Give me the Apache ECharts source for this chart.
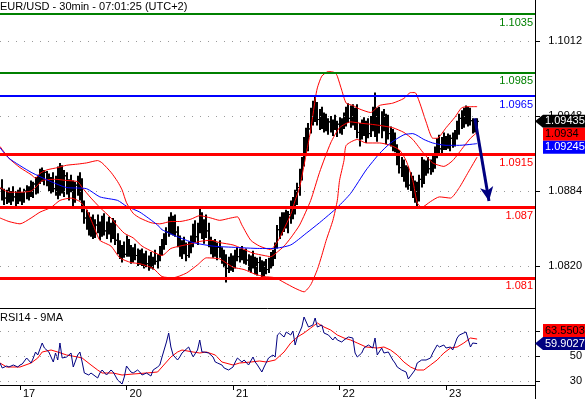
<!DOCTYPE html>
<html><head><meta charset="utf-8">
<script src="https://cdn.jsdelivr.net/npm/echarts@6/dist/echarts.min.js"></script>
<style>html,body{margin:0;padding:0;background:#fff}#c{width:585px;height:399px}</style>
</head><body><div id="c"></div>
<script>
const titleText = 'EUR/USD - 30min - 07:01:25 (UTC+2)';
const rsiTitle = 'RSI14 - 9MA';
const dayLabels = ['17', '20', '21', '22', '23'];
const dayStartBars = [0, 48, 96, 144, 192];
const firstBar = -8;
// [open, high, low, close] per 30-min bar
const ohlc = [
[1.0886,1.0894,1.0876,1.0880],[1.0880,1.0886,1.0872,1.0878],[1.0878,1.0885,1.0873,1.0882],[1.0882,1.0887,1.0874,1.0877],
[1.0877,1.0884,1.0872,1.0880],[1.0880,1.0888,1.0875,1.0879],[1.0879,1.0884,1.0871,1.0876],[1.0876,1.0885,1.0873,1.0881],
[1.0881,1.0887,1.0875,1.0879],[1.0879,1.0883,1.0872,1.0877],[1.0877,1.0886,1.0874,1.0884],[1.0884,1.0889,1.0877,1.0880],
[1.0880,1.0888,1.0876,1.0886],[1.0886,1.0893,1.0879,1.0883],
[1.0883,1.0892,1.0878,1.0890],[1.0890,1.0896,1.0881,1.0884],[1.0884,1.0898,1.0882,1.0895],[1.0895,1.0903,1.0890,1.0899],
[1.0899,1.0904,1.0892,1.0896],[1.0896,1.0902,1.0889,1.0900],
[1.0900,1.0901,1.0888,1.0892],[1.0892,1.0899,1.0884,1.0887],[1.0887,1.0896,1.0882,1.0894],[1.0894,1.0900,1.0883,1.0886],
[1.0886,1.0897,1.0880,1.0893],
[1.0893,1.0905,1.0877,1.0884],[1.0884,1.0908,1.0880,1.0900],[1.0900,1.0906,1.0882,1.0888],[1.0888,1.0902,1.0879,1.0897],
[1.0897,1.0900,1.0881,1.0886],[1.0886,1.0894,1.0876,1.0890],[1.0890,1.0898,1.0883,1.0887],[1.0887,1.0893,1.0871,1.0878],
[1.0878,1.0892,1.0874,1.0889],[1.0889,1.0897,1.0880,1.0884],
[1.0884,1.0900,1.0876,1.0893],[1.0893,1.0895,1.0866,1.0870],[1.0870,1.0876,1.0856,1.0861],
[1.0861,1.0868,1.0851,1.0857],[1.0857,1.0866,1.0846,1.0849],[1.0849,1.0862,1.0845,1.0858],[1.0858,1.0864,1.0843,1.0850],
[1.0850,1.0860,1.0844,1.0855],[1.0855,1.0864,1.0848,1.0852],[1.0852,1.0858,1.0842,1.0846],[1.0846,1.0863,1.0845,1.0859],
[1.0859,1.0865,1.0846,1.0850],[1.0850,1.0858,1.0843,1.0856],[1.0856,1.0862,1.0847,1.0851],[1.0851,1.0857,1.0840,1.0845],
[1.0845,1.0861,1.0843,1.0855],[1.0855,1.0859,1.0838,1.0842],
[1.0842,1.0848,1.0830,1.0835],[1.0835,1.0842,1.0826,1.0829],[1.0829,1.0838,1.0823,1.0834],[1.0834,1.0841,1.0827,1.0830],
[1.0830,1.0846,1.0828,1.0840],
[1.0840,1.0843,1.0828,1.0832],[1.0832,1.0838,1.0822,1.0827],[1.0827,1.0836,1.0823,1.0833],[1.0833,1.0839,1.0825,1.0829],
[1.0829,1.0835,1.0820,1.0826],
[1.0826,1.0834,1.0821,1.0830],[1.0830,1.0835,1.0820,1.0823],[1.0823,1.0831,1.0818,1.0828],[1.0828,1.0833,1.0819,1.0822],
[1.0822,1.0829,1.0816,1.0825],[1.0825,1.0832,1.0818,1.0820],[1.0820,1.0828,1.0817,1.0826],[1.0826,1.0834,1.0821,1.0824],
[1.0824,1.0830,1.0818,1.0828],[1.0828,1.0837,1.0824,1.0834],
[1.0834,1.0843,1.0829,1.0840],[1.0840,1.0848,1.0834,1.0845],[1.0845,1.0853,1.0838,1.0849],
[1.0849,1.0862,1.0845,1.0858],[1.0858,1.0866,1.0847,1.0852],[1.0852,1.0863,1.0846,1.0860],[1.0860,1.0864,1.0845,1.0849],
[1.0849,1.0854,1.0836,1.0840],[1.0840,1.0846,1.0828,1.0833],[1.0833,1.0842,1.0826,1.0838],[1.0838,1.0845,1.0830,1.0834],
[1.0834,1.0840,1.0824,1.0829],[1.0829,1.0841,1.0827,1.0837],[1.0837,1.0846,1.0831,1.0842],
[1.0842,1.0856,1.0836,1.0851],[1.0851,1.0859,1.0840,1.0845],[1.0845,1.0857,1.0838,1.0854],[1.0854,1.0870,1.0848,1.0862],
[1.0862,1.0866,1.0843,1.0848],[1.0848,1.0860,1.0839,1.0856],[1.0856,1.0864,1.0844,1.0850],[1.0850,1.0857,1.0836,1.0840],
[1.0840,1.0845,1.0830,1.0834],[1.0834,1.0842,1.0827,1.0838],[1.0838,1.0843,1.0828,1.0831],[1.0831,1.0840,1.0825,1.0836],
[1.0836,1.0842,1.0827,1.0830],[1.0830,1.0836,1.0822,1.0827],[1.0827,1.0834,1.0819,1.0824],[1.0824,1.0830,1.0806,1.0818],
[1.0818,1.0828,1.0814,1.0824],[1.0824,1.0831,1.0816,1.0820],[1.0820,1.0829,1.0815,1.0826],[1.0826,1.0834,1.0818,1.0830],
[1.0830,1.0836,1.0824,1.0828],[1.0828,1.0835,1.0823,1.0832],[1.0832,1.0837,1.0825,1.0827],[1.0827,1.0834,1.0822,1.0830],
[1.0830,1.0835,1.0821,1.0825],
[1.0825,1.0830,1.0816,1.0821],[1.0821,1.0829,1.0814,1.0826],[1.0826,1.0833,1.0818,1.0822],[1.0822,1.0828,1.0813,1.0817],
[1.0817,1.0827,1.0812,1.0823],
[1.0823,1.0828,1.0815,1.0819],[1.0819,1.0825,1.0809,1.0815],[1.0815,1.0824,1.0811,1.0820],[1.0820,1.0826,1.0813,1.0817],
[1.0817,1.0827,1.0814,1.0824],
[1.0824,1.0832,1.0818,1.0828],[1.0828,1.0834,1.0820,1.0831],[1.0831,1.0840,1.0826,1.0837],
[1.0837,1.0855,1.0835,1.0851],[1.0851,1.0862,1.0843,1.0856],[1.0856,1.0866,1.0846,1.0852],
[1.0852,1.0866,1.0849,1.0862],[1.0862,1.0868,1.0852,1.0856],[1.0856,1.0867,1.0848,1.0864],
[1.0864,1.0876,1.0856,1.0871],[1.0871,1.0879,1.0860,1.0866],
[1.0866,1.0885,1.0864,1.0881],[1.0881,1.0891,1.0872,1.0887],
[1.0887,1.0903,1.0880,1.0898],[1.0898,1.0913,1.0893,1.0908],
[1.0908,1.0930,1.0905,1.0925],[1.0925,1.0938,1.0916,1.0920],[1.0920,1.0942,1.0918,1.0937],
[1.0937,1.0955,1.0933,1.0950],[1.0950,1.0961,1.0940,1.0946],[1.0946,1.0966,1.0943,1.0958],
[1.0958,1.0960,1.0940,1.0945],[1.0945,1.0954,1.0936,1.0950],[1.0950,1.0956,1.0937,1.0941],[1.0941,1.0951,1.0934,1.0947],
[1.0947,1.0950,1.0935,1.0939],[1.0939,1.0946,1.0932,1.0943],[1.0943,1.0948,1.0934,1.0937],[1.0937,1.0945,1.0931,1.0942],
[1.0942,1.0949,1.0936,1.0938],[1.0938,1.0944,1.0930,1.0941],[1.0941,1.0947,1.0933,1.0936],[1.0936,1.0946,1.0932,1.0944],
[1.0944,1.0951,1.0937,1.0948],
[1.0948,1.0956,1.0939,1.0951],[1.0951,1.0959,1.0942,1.0946],[1.0946,1.0957,1.0938,1.0953],[1.0953,1.0958,1.0940,1.0944],
[1.0944,1.0955,1.0936,1.0949],
[1.0949,1.0958,1.0929,1.0934],[1.0934,1.0942,1.0922,1.0938],
[1.0938,1.0945,1.0928,1.0941],[1.0941,1.0947,1.0931,1.0936],[1.0936,1.0944,1.0925,1.0940],[1.0940,1.0946,1.0929,1.0933],
[1.0933,1.0948,1.0930,1.0944],
[1.0944,1.0956,1.0935,1.0951],[1.0951,1.0968,1.0930,1.0939],[1.0939,1.0955,1.0926,1.0948],
[1.0948,1.0956,1.0933,1.0940],[1.0940,1.0952,1.0929,1.0947],[1.0947,1.0954,1.0935,1.0938],[1.0938,1.0950,1.0924,1.0944],
[1.0944,1.0949,1.0928,1.0933],
[1.0933,1.0939,1.0922,1.0929],[1.0929,1.0937,1.0918,1.0925],[1.0925,1.0934,1.0917,1.0921],
[1.0921,1.0924,1.0906,1.0910],[1.0910,1.0919,1.0899,1.0904],[1.0904,1.0913,1.0896,1.0908],
[1.0908,1.0911,1.0892,1.0896],[1.0896,1.0906,1.0887,1.0901],[1.0901,1.0905,1.0885,1.0889],[1.0889,1.0900,1.0884,1.0894],
[1.0894,1.0897,1.0878,1.0882],[1.0882,1.0893,1.0874,1.0888],[1.0888,1.0892,1.0869,1.0877],
[1.0877,1.0898,1.0875,1.0894],[1.0894,1.0913,1.0887,1.0906],[1.0906,1.0911,1.0890,1.0899],
[1.0899,1.0910,1.0897,1.0906],[1.0906,1.0913,1.0899,1.0903],[1.0903,1.0911,1.0898,1.0909],[1.0909,1.0914,1.0900,1.0905],
[1.0905,1.0922,1.0903,1.0918],[1.0918,1.0929,1.0912,1.0925],[1.0925,1.0932,1.0916,1.0920],[1.0920,1.0930,1.0914,1.0927],
[1.0927,1.0934,1.0919,1.0923],
[1.0923,1.0931,1.0919,1.0928],[1.0928,1.0933,1.0920,1.0924],[1.0924,1.0932,1.0918,1.0929],[1.0929,1.0934,1.0921,1.0925],
[1.0925,1.0936,1.0922,1.0933],
[1.0933,1.0944,1.0928,1.0940],[1.0940,1.0950,1.0932,1.0946],[1.0946,1.0953,1.0937,1.0942],[1.0942,1.0955,1.0938,1.0951],
[1.0951,1.0957,1.0941,1.0948],[1.0948,1.0956,1.0939,1.0952],[1.0952,1.0955,1.0940,1.0944],
[1.0944,1.0946,1.0933,1.0937],[1.0937,1.0945,1.0934,1.0941],[1.0941,1.0946,1.09365,1.09435]
];
// [bar, value] readings of the indicator lines
const bbUpper = [[-9,1.0922],[-5,1.0912],[0,1.0904],[5,1.0898],[7,1.0895],[9,1.0899],[12,1.0902],[17,1.0904],[21,1.0906],[26,1.0907],[30,1.0908],[35,1.0910],[37,1.0908],[41,1.0900],[44,1.0892],[46,1.0885],[48,1.0874],[51,1.0865],[54,1.0861],[59,1.0857],[63,1.0856],[68,1.0858],[72,1.0858],[77,1.0860],[81,1.0863],[86,1.0861],[90,1.0859],[95,1.0861],[98,1.0862],[100,1.0855],[104,1.0842],[108,1.0837],[113,1.0834],[115,1.0838],[117,1.0844],[122,1.0864],[124,1.0876],[126,1.0887],[128,1.0906],[131,1.0936],[133,1.0962],[134,1.0972],[136,1.0982],[139,1.0986],[142,1.0985],[143,1.0982],[145,1.0970],[147,1.0959],[150,1.0957],[153,1.0954],[158,1.0951],[162,1.0957],[168,1.0959],[173,1.0963],[176,1.0968],[178,1.0968],[180,1.0960],[183,1.0943],[186,1.0929],[188,1.0929],[192,1.0938],[196,1.0947],[199,1.0955],[202,1.0956],[206,1.0956]];
const bbMiddle = [[-9,1.0887],[-5,1.0883],[0,1.0883],[5,1.0884],[8,1.0889],[10,1.0893],[16,1.0894],[21,1.0893],[26,1.0892],[28,1.0887],[32,1.0878],[36,1.0870],[41,1.0861],[44,1.0854],[47,1.0848],[51,1.0844],[55,1.0837],[60,1.0832],[64,1.0829],[68,1.0835],[72,1.0837],[77,1.0839],[81,1.0841],[86,1.0842],[90,1.0840],[96,1.0838],[100,1.0835],[105,1.0831],[110,1.0829],[113,1.0828],[116,1.0832],[119,1.0837],[122,1.0844],[126,1.0855],[131,1.0876],[135,1.0900],[140,1.0925],[144,1.0938],[149,1.0943],[153,1.0942],[158,1.0941],[162,1.0940],[168,1.0938],[173,1.0934],[177,1.0928],[182,1.0916],[186,1.0908],[191,1.0905],[195,1.0910],[200,1.0922],[203,1.0929],[206,1.0934]];
const bbLower = [[-9,1.0861],[-5,1.0858],[0,1.0856],[5,1.0861],[9,1.0866],[14,1.0870],[18,1.0876],[23,1.0878],[27,1.0875],[30,1.0868],[33,1.0855],[36,1.0842],[41,1.0837],[45,1.0827],[50,1.0823],[54,1.0822],[60,1.0818],[64,1.0811],[69,1.0810],[75,1.0814],[80,1.0821],[84,1.0827],[90,1.0826],[96,1.0819],[101,1.0817],[106,1.0813],[110,1.0811],[115,1.0810],[119,1.0806],[124,1.0801],[128,1.0798],[131,1.0804],[134,1.0817],[136,1.0829],[138,1.0842],[141,1.0859],[143,1.0876],[144,1.0893],[146,1.0910],[147,1.0923],[152,1.0928],[156,1.0925],[162,1.0925],[167,1.0923],[171,1.0919],[174,1.0910],[177,1.0893],[179,1.0874],[181,1.0870],[185,1.0875],[189,1.0879],[194,1.0878],[198,1.0887],[202,1.0900],[206,1.0913]];
const movingAvg = [[-9,1.0921],[-5,1.0912],[5,1.0900],[14,1.0892],[21,1.0887],[30,1.0886],[36,1.0879],[44,1.0876],[48,1.0871],[54,1.0866],[62,1.0855],[64,1.0851],[71,1.0845],[78,1.0840],[87,1.0837],[96,1.0836],[108,1.0835],[114,1.0835],[122,1.0838],[129,1.0848],[135,1.0857],[143,1.0870],[149,1.0882],[156,1.0902],[162,1.0916],[167,1.0925],[173,1.0932],[177,1.0933],[182,1.0928],[186,1.0925],[192,1.0923],[198,1.0923],[204,1.0924],[206,1.09245]];
const rsi14 = [[-9,44.4],[-8,40.4],[-6,42],[-5,41.2],[-3,42.8],[-1,41.2],[0,42.8],[1,43.6],[3,48.4],[5,44.4],[6,48.4],[7,53.2],[8,50.8],[10,60.4],[11,56.4],[13,53.2],[15,45.2],[16,52.4],[17,46.8],[18,60.4],[19,48.4],[21,49.2],[23,52.4],[24,41.2],[26,50.8],[27,53.2],[28,45.2],[29,36.4],[31,34.8],[32,36.4],[35,32.4],[36,36.4],[37,38.8],[39,34.8],[41,38.8],[42,37.2],[44,30.8],[46,27.6],[47,33.2],[48,42],[50,37.2],[51,36.4],[53,38.8],[54,37.2],[55,34.8],[57,36.4],[59,34],[60,38.8],[62,41.2],[63,42.8],[64,49.2],[66,61.2],[67,68.4],[68,57.2],[69,50.8],[71,46.8],[72,49.2],[73,52.4],[76,57.2],[78,49.2],[80,54.8],[81,62.8],[82,53.2],[83,53.2],[85,52.4],[87,49.2],[88,45.2],[89,44.4],[91,42.8],[92,40.4],[94,38.8],[96,41.2],[97,45.2],[98,48.4],[100,45.2],[101,46.8],[103,42.8],[105,49.2],[106,45.2],[107,42.8],[109,37.2],[110,41.2],[112,48.4],[114,50.8],[115,49.2],[116,66.8],[117,68.4],[119,65.2],[120,69.2],[122,66.8],[123,70],[124,58.8],[125,65.2],[127,73.2],[128,81.2],[130,73.2],[132,74.8],[133,80.4],[134,73.2],[136,74.8],[137,68.4],[139,66.8],[141,62.8],[142,65.2],[143,62.8],[145,61.2],[146,62.8],[148,65.2],[150,64.4],[151,52.4],[152,49.2],[154,52.4],[155,56.4],[157,58.8],[159,56.4],[160,64.4],[161,50.8],[163,56.4],[164,52.4],[166,53.2],[168,46.8],[169,44.4],[170,41.2],[172,38.8],[174,37.2],[175,31.6],[177,36.4],[178,38.8],[179,44.4],[181,46.8],[183,46.8],[185,48.4],[186,52.4],[188,58.8],[189,57.2],[191,58.8],[192,56.4],[194,57.2],[195,54.8],[197,64.4],[198,66.8],[200,68.4],[201,69.2],[203,57.2],[204,60.4],[206,59.9027]];
const rsiMa9 = [[-9,44.4],[-6,41.2],[0,41.2],[5,44.4],[8,48.4],[10,53.2],[14,54.8],[17,53.2],[21,50.8],[26,49.2],[28,48.4],[32,42.8],[35,38.8],[37,36.4],[42,36.4],[46,34.8],[51,35.6],[57,36.4],[62,37.2],[64,41.2],[68,49.2],[71,53.2],[73,54.8],[78,53.2],[81,52.4],[84,53.2],[88,50.8],[91,45.2],[96,42.8],[99,44.4],[104,45.2],[108,46],[111,45.2],[115,46.8],[119,53.2],[122,60.4],[125,65.2],[128,68.4],[131,72.4],[134,76.4],[137,73.2],[140,70.8],[143,66.8],[146,64.4],[149,62.8],[152,60.4],[156,57.2],[161,56.4],[164,57.2],[167,54.8],[170,50.8],[173,45.2],[176,41.2],[179,38.8],[182,38.8],[185,42.8],[188,46.8],[191,52.4],[194,56.4],[197,57.2],[200,60.4],[203,64.4],[206,63.5503]];
const levelValues = [1.1035, 1.0985, 1.0965, 1.0915, 1.087, 1.081];
const forecastArrow = [[205, 1.0946], [211.35, 1.08755]];
const priceTicks = [1.0820, 1.0884, 1.0948, 1.1012];
const rsiTicks = [30, 50, 70];

// ---- styling / layout ----
const FONT = 'Arial, "Liberation Sans", sans-serif';
const levelColors = ['#008000', '#008000', '#0000ff', '#ff0000', '#ff0000', '#ff0000'];
const levelWidths = [2, 2, 2, 3, 3, 3];
const PLOT_W = 535, MAIN_H = 308, RSI_TOP = 308, RSI_H = 77;
const PX_PER_BAR = 2.219, DAY0_PX = 20;
const xMin = -DAY0_PX / PX_PER_BAR, xMax = (PLOT_W - DAY0_PX) / PX_PER_BAR;

const barData = ohlc.map((r, k) => [firstBar + k, r[0], r[1], r[2], r[3]]);
const chart = echarts.init(document.getElementById('c'), null, {renderer: 'canvas'});

// horizontal guide spanning the whole plot width at value v
function hSpan(v) { return [{coord: [xMin, v]}, {coord: [xMax, v]}]; }
const dotted = {color: '#9a9a9a', width: 1, type: [1, 7]};

const option = {
  animation: false,
  backgroundColor: '#fff',
  textStyle: {fontFamily: FONT},
  title: [
    {text: titleText, left: 0, top: 1, padding: 0, textStyle: {fontSize: 11, fontWeight: 'normal', color: '#000', fontFamily: FONT}},
    {text: rsiTitle, left: 0, top: 312, padding: 0, textStyle: {fontSize: 11, fontWeight: 'normal', color: '#000', fontFamily: FONT}}
  ],
  grid: [
    {left: 0, top: 0, width: PLOT_W, height: MAIN_H, containLabel: false},
    {left: 0, top: RSI_TOP, width: PLOT_W, height: RSI_H, containLabel: false}
  ],
  xAxis: [
    {gridIndex: 0, type: 'value', min: xMin, max: xMax, axisLine: {show: true, onZero: false, lineStyle: {color: '#000', width: 1}},
     axisTick: {show: false}, axisLabel: {show: false}, splitLine: {show: false}},
    {gridIndex: 1, type: 'value', min: xMin, max: xMax, axisLine: {show: true, onZero: false, lineStyle: {color: '#000', width: 1}},
     axisTick: {show: true, customValues: dayStartBars, length: 5, lineStyle: {color: '#000'}},
     axisLabel: {show: true, customValues: dayStartBars, formatter: v => dayLabels[dayStartBars.indexOf(v)],
       align: 'left', margin: 3, padding: [0, 0, 0, 3], fontSize: 11, color: '#000', fontFamily: FONT},
     splitLine: {show: false}}
  ],
  yAxis: [
    {gridIndex: 0, type: 'value', position: 'right', min: 1.07842, max: 1.10470,
     axisLine: {show: true, onZero: false, lineStyle: {color: '#000'}},
     axisTick: {show: true, customValues: priceTicks, length: 5, lineStyle: {color: '#000'}},
     axisLabel: {show: true, customValues: priceTicks, formatter: v => v.toFixed(4), margin: 47, align: 'right', fontSize: 11, color: '#000', fontFamily: FONT},
     splitLine: {show: false}},
    {gridIndex: 1, type: 'value', position: 'right', min: 26.8, max: 88.4,
     axisLine: {show: true, onZero: false, lineStyle: {color: '#000'}},
     axisTick: {show: true, customValues: rsiTicks, length: 5, lineStyle: {color: '#000'}},
     axisLabel: {show: true, customValues: rsiTicks, formatter: v => String(v), margin: 47, align: 'right', fontSize: 11, color: '#000', fontFamily: FONT},
     splitLine: {show: false}}
  ],
  series: [
    {name: 'priceGrid', type: 'line', xAxisIndex: 0, yAxisIndex: 0, data: [], silent: true, z: 1,
     markLine: {silent: true, symbol: ['none', 'none'], precision: 6, label: {show: false}, lineStyle: dotted, data: priceTicks.map(hSpan)}},
    {name: 'bars', type: 'custom', xAxisIndex: 0, yAxisIndex: 0, data: barData, z: 2, silent: true,
     encode: {x: 0, y: [1, 2, 3, 4]},
     renderItem: function (params, api) {
       const x = api.value(0);
       const o = api.coord([x, api.value(1)]);
       const h = api.coord([x, api.value(2)]);
       const l = api.coord([x, api.value(3)]);
       const c = api.coord([x, api.value(4)]);
       const xc = Math.round(h[0]);
       return {type: 'group', children: [
         {type: 'line', shape: {x1: xc, y1: h[1], x2: xc, y2: l[1]}, style: {stroke: '#000', lineWidth: 2}},
         {type: 'line', shape: {x1: xc - 2, y1: o[1], x2: xc, y2: o[1]}, style: {stroke: '#000', lineWidth: 1}},
         {type: 'line', shape: {x1: xc, y1: c[1], x2: xc + 2, y2: c[1]}, style: {stroke: '#000', lineWidth: 1}}
       ]};
     }},
    {name: 'bbUpper', type: 'line', xAxisIndex: 0, yAxisIndex: 0, data: bbUpper, showSymbol: false, smooth: 0.2, z: 3, silent: true,
     lineStyle: {color: '#ff0000', width: 1}},
    {name: 'bbMiddle', type: 'line', xAxisIndex: 0, yAxisIndex: 0, data: bbMiddle, showSymbol: false, smooth: 0.2, z: 3, silent: true,
     lineStyle: {color: '#ff0000', width: 1}},
    {name: 'bbLower', type: 'line', xAxisIndex: 0, yAxisIndex: 0, data: bbLower, showSymbol: false, smooth: 0.2, z: 3, silent: true,
     lineStyle: {color: '#ff0000', width: 1}},
    {name: 'ma', type: 'line', xAxisIndex: 0, yAxisIndex: 0, data: movingAvg, showSymbol: false, smooth: 0.2, z: 3, silent: true,
     lineStyle: {color: '#0000ff', width: 1}},
    {name: 'levels', type: 'line', xAxisIndex: 0, yAxisIndex: 0, data: [], silent: true, z: 5,
     markLine: {silent: true, symbol: 'none', precision: 6,
       data: levelValues.map((v, k) => ({yAxis: v, lineStyle: {color: levelColors[k], width: levelWidths[k], type: 'solid'},
         label: {show: true, position: 'insideEndBottom', formatter: String(v), color: levelColors[k], fontSize: 11, fontFamily: FONT, distance: [2, 3]}}))}},
    {name: 'arrow', type: 'line', xAxisIndex: 0, yAxisIndex: 0, data: [], silent: true, z: 6,
     markLine: {silent: true, symbol: ['none', 'arrow'], symbolSize: [10, 14], precision: 6, label: {show: false},
       lineStyle: {color: '#000080', width: 3, type: 'solid'},
       data: [[{coord: forecastArrow[0]}, {coord: forecastArrow[1]}]]}},
    {name: 'rsiGrid', type: 'line', xAxisIndex: 1, yAxisIndex: 1, data: [], silent: true, z: 1,
     markLine: {silent: true, symbol: ['none', 'none'], precision: 6, label: {show: false}, lineStyle: dotted, data: rsiTicks.map(hSpan)}},
    {name: 'rsiMa', type: 'line', xAxisIndex: 1, yAxisIndex: 1, data: rsiMa9, showSymbol: false, z: 3, silent: true,
     lineStyle: {color: '#ff0000', width: 1}},
    {name: 'rsi', type: 'line', xAxisIndex: 1, yAxisIndex: 1, data: rsi14, showSymbol: false, z: 4, silent: true,
     lineStyle: {color: '#000080', width: 1}}
  ]
};
chart.setOption(option);

// ---- value tags on the right axis ----
const lastClose = ohlc[ohlc.length - 1][3];
const lastMid = bbMiddle[bbMiddle.length - 1][1];
const lastMa = movingAvg[movingAvg.length - 1][1];
const lastRsi = rsi14[rsi14.length - 1][1];
const lastRsiMa = rsiMa9[rsiMa9.length - 1][1];
const yMain = v => chart.convertToPixel({yAxisIndex: 0}, v);
const yRsi = v => chart.convertToPixel({yAxisIndex: 1}, v);
const TAG_H = 13, AX = PLOT_W, BODY = AX + 8, RIGHT = 585;

function arrowTag(y, txt, bg, fg) {
  const t = y - TAG_H / 2, b = y + TAG_H / 2;
  return [
    {type: 'polygon', shape: {points: [[AX, y], [BODY, t], [RIGHT, t], [RIGHT, b], [BODY, b]]}, style: {fill: bg}, z: 100},
    {type: 'text', x: BODY + 2, y: y, style: {text: txt, fill: fg, font: '11px ' + FONT, verticalAlign: 'middle'}, z: 101}
  ];
}
function boxTag(top, txt, bg, fg) {
  return [
    {type: 'rect', shape: {x: BODY, y: top, width: RIGHT - BODY, height: TAG_H}, style: {fill: bg}, z: 100},
    {type: 'text', x: BODY + 2, y: top + TAG_H / 2, style: {text: txt, fill: fg, font: '11px ' + FONT, verticalAlign: 'middle'}, z: 101}
  ];
}
const g = [];
const yc = yMain(lastClose);
g.push(...arrowTag(yc, String(lastClose), '#000', '#fff'));
let top1 = Math.max(yMain(lastMid) - TAG_H / 2, yc + TAG_H / 2);
g.push(...boxTag(top1, String(lastMid), '#ff0000', '#000'));
let top2 = Math.max(yMain(lastMa) - TAG_H / 2, top1 + TAG_H);
g.push(...boxTag(top2, String(lastMa), '#0000ff', '#fff'));
const yr = yRsi(lastRsi);
g.push(...arrowTag(yr, String(lastRsi), '#000080', '#fff'));
let top3 = Math.min(yRsi(lastRsiMa) - TAG_H / 2, yr - TAG_H / 2 - TAG_H);
g.push(...boxTag(top3, String(lastRsiMa), '#ff0000', '#000'));
// axis line continues below the indicator panel
g.push({type: 'line', shape: {x1: AX + 0.5, y1: RSI_TOP + RSI_H, x2: AX + 0.5, y2: 399}, style: {stroke: '#000', lineWidth: 1}, z: 50});
chart.setOption({graphic: g});
</script>
</body></html>
